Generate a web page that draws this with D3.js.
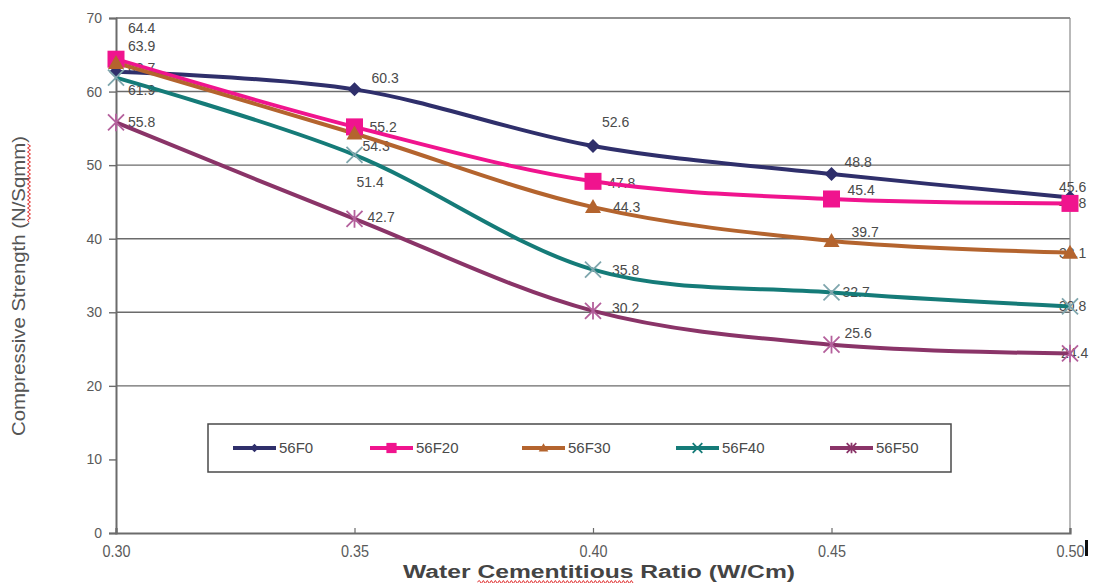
<!DOCTYPE html>
<html>
<head>
<meta charset="utf-8">
<script src="https://cdn.jsdelivr.net/npm/d3@7"></script>
<style>
  html, body { margin: 0; padding: 0; background: #fff; }
  svg { display: block; }
</style>
</head>
<body>
<svg id="chart" width="1094" height="583"></svg>
<script>
// W/Cm ratios on the horizontal axis
const ratios = [0.30, 0.35, 0.40, 0.45, 0.50];
const xTickLabels = ["0.30", "0.35", "0.40", "0.45", "0.50"];
const yTicks = [0, 10, 20, 30, 40, 50, 60, 70];
const gridValues = [20, 30, 40, 50, 60, 70];

// Compressive strength (N/Sqmm) for each mix
const seriesNames = ["56F0", "56F20", "56F30", "56F40", "56F50"];
const s56F0  = [62.7, 60.3, 52.6, 48.8, 45.6];
const s56F20 = [64.4, 55.2, 47.8, 45.4, 44.8];
const s56F30 = [63.9, 54.3, 44.3, 39.7, 38.1];
const s56F40 = [61.9, 51.4, 35.8, 32.7, 30.8];
const s56F50 = [55.8, 42.7, 30.2, 25.6, 24.4];
const seriesValues = [s56F0, s56F20, s56F30, s56F40, s56F50];

// Presentation
const lineColors   = ["#2f2f6b", "#f0148e", "#b4642e", "#157b78", "#8a3468"];
const markerColors = ["#2f2f6b", "#f0148e", "#b4642e", "#7fa6ad", "#b4609c"];
const markerKinds  = ["diamond", "square", "triangle", "x", "star"];
// data-label offsets [dx, dy] per series, per point
const labelOffsets = [
  [[12, -4], [17, -11], [9, -24], [13, -12], [-11, -10]],
  [[12, -31], [15, 0], [15, 2], [16, -9], [-11, 0]],
  [[12, -17], [8, 13], [20, 0], [20, -9], [-11, 0]],
  [[12, 13], [2, 27], [19, 0], [11, 0], [-11, 0]],
  [[12, 0], [13, -2], [19, -3], [13, -12], [-9, 0]]
];

const svg = d3.select("#chart");
const x = d3.scaleLinear().domain([0.30, 0.50]).range([116, 1070]);
const y = d3.scaleLinear().domain([0, 70]).range([533, 18]);

const gray = "#5a5a5a";
const sans = "'Liberation Sans', Arial, sans-serif";

// horizontal gridlines
svg.append("g").selectAll("line").data(gridValues).join("line")
  .attr("x1", x(0.30)).attr("x2", x(0.50))
  .attr("y1", d => y(d)).attr("y2", d => y(d))
  .attr("stroke", "#6b6b6b").attr("stroke-width", 1.4);

// right border of the plot area
svg.append("line")
  .attr("x1", x(0.50)).attr("x2", x(0.50)).attr("y1", y(70)).attr("y2", y(0))
  .attr("stroke", "#8a8a8a").attr("stroke-width", 1.2);

// y axis
const yAxis = svg.append("g").attr("transform", `translate(${x(0.30)},0)`)
  .call(d3.axisLeft(y).tickValues(yTicks).tickSize(7).tickPadding(7).tickFormat(d3.format("d")));
yAxis.select(".domain").attr("stroke", "#6b6b6b").attr("stroke-width", 2);
yAxis.selectAll(".tick line").attr("stroke", "#6b6b6b").attr("stroke-width", 1.4);
yAxis.selectAll(".tick text").attr("fill", gray).style("font-family", sans).style("font-size", "14px");

// x axis
const xAxis = svg.append("g").attr("transform", `translate(0,${y(0)})`)
  .call(d3.axisBottom(x).tickValues(ratios).tickSize(-5).tickPadding(10)
    .tickFormat((d, i) => xTickLabels[i]));
xAxis.select(".domain").attr("stroke", "#6b6b6b").attr("stroke-width", 2.2);
xAxis.selectAll(".tick line").attr("stroke", "#6b6b6b").attr("stroke-width", 1.2);
xAxis.selectAll(".tick text").attr("fill", gray).style("font-family", sans).style("font-size", "16px")
  .attr("dy", "0.85em")
  .attr("textLength", 28).attr("lengthAdjust", "spacingAndGlyphs");

// data labels (drawn under the lines and markers)
const labelG = svg.append("g");
seriesValues.forEach((vals, si) => {
  labelG.selectAll(null).data(vals).join("text")
    .attr("x", (d, i) => x(ratios[i]) + labelOffsets[si][i][0])
    .attr("y", (d, i) => y(d) + labelOffsets[si][i][1])
    .attr("dy", "0.35em")
    .attr("fill", "#4a4a4a")
    .style("font-family", sans).style("font-size", "14px")
    .text(d => d.toFixed(1));
});

// smoothed lines
const line = d3.line()
  .x((d, i) => x(ratios[i]))
  .y(d => y(d))
  .curve(d3.curveCatmullRom.alpha(0));

const linesG = svg.append("g");
seriesValues.forEach((vals, si) => {
  linesG.append("path").datum(vals)
    .attr("d", line)
    .attr("fill", "none")
    .attr("stroke", lineColors[si])
    .attr("stroke-width", 4)
    .attr("stroke-linejoin", "round");
});

// marker shapes
function drawMarker(g, kind, cx, cy, color, scale) {
  const s = scale || 1;
  if (kind === "diamond") {
    const r = 7 * s;
    g.append("path").attr("d", `M${cx},${cy - r}L${cx + r},${cy}L${cx},${cy + r}L${cx - r},${cy}Z`)
      .attr("fill", color);
  } else if (kind === "square") {
    const r = 8.5 * s;
    g.append("rect").attr("x", cx - r).attr("y", cy - r).attr("width", 2 * r).attr("height", 2 * r)
      .attr("fill", color);
  } else if (kind === "triangle") {
    const r = 8 * s;
    g.append("path").attr("d", `M${cx},${cy - r}L${cx + r},${cy + r * 0.75}L${cx - r},${cy + r * 0.75}Z`)
      .attr("fill", color);
  } else if (kind === "x") {
    const r = 8 * s;
    g.append("path").attr("d", `M${cx - r},${cy - r}L${cx + r},${cy + r}M${cx - r},${cy + r}L${cx + r},${cy - r}`)
      .attr("stroke", color).attr("stroke-width", 1.8).attr("fill", "none");
  } else if (kind === "star") {
    const r = 8 * s;
    g.append("path").attr("d", `M${cx - r},${cy - r}L${cx + r},${cy + r}M${cx - r},${cy + r}L${cx + r},${cy - r}M${cx},${cy - r * 1.1}L${cx},${cy + r * 1.1}`)
      .attr("stroke", color).attr("stroke-width", 1.8).attr("fill", "none");
  }
}

const markerG = svg.append("g");
seriesValues.forEach((vals, si) => {
  vals.forEach((v, i) => drawMarker(markerG, markerKinds[si], x(ratios[i]), y(v), markerColors[si]));
});

// legend
const legend = svg.append("g");
legend.append("rect")
  .attr("x", 208).attr("y", 424).attr("width", 743).attr("height", 48)
  .attr("fill", "#fff").attr("stroke", "#4a4a4a").attr("stroke-width", 1.5);
const legendX = [233, 370, 522, 676, 830];
seriesNames.forEach((name, si) => {
  const lx = legendX[si];
  const ly = 448;
  legend.append("line").attr("x1", lx).attr("x2", lx + 43).attr("y1", ly).attr("y2", ly)
    .attr("stroke", lineColors[si]).attr("stroke-width", 4);
  drawMarker(legend, markerKinds[si], lx + 21.5, ly, si >= 3 ? lineColors[si] : markerColors[si], 0.6);
  legend.append("text").attr("x", lx + 46).attr("y", ly).attr("dy", "0.36em")
    .attr("fill", "#4a4a4a").style("font-family", sans).style("font-size", "15px")
    .text(name);
});

// axis titles (condensed glyphs)
const yTitleTf = "translate(25,286) rotate(-90)";
const yTitle = svg.append("text")
  .attr("transform", yTitleTf)
  .attr("text-anchor", "middle")
  .attr("fill", "#555").style("font-family", sans).style("font-size", "19px")
  .attr("textLength", 300).attr("lengthAdjust", "spacingAndGlyphs")
  .text("Compressive Strength (N/Sqmm)");

const xTitle = svg.append("text")
  .attr("x", 599).attr("y", 578)
  .attr("text-anchor", "middle")
  .attr("fill", "#444").style("font-family", sans).style("font-size", "18px").style("font-weight", "bold")
  .attr("textLength", 392).attr("lengthAdjust", "spacingAndGlyphs")
  .text("Water Cementitious Ratio (W/Cm)");

// red wavy underline, as a spell-checker draws it
function squiggle(x0, x1) {
  let d = `M${x0},0`;
  let up = true;
  for (let xx = x0 + 2; xx <= x1; xx += 2) { d += `L${xx},${up ? -1.5 : 1.5}`; up = !up; }
  return d;
}
{
  const node = xTitle.node();
  const text = node.textContent;
  const i0 = text.indexOf("Cementitious");
  const start = node.getStartPositionOfChar(i0);
  const end = node.getEndPositionOfChar(i0 + "Cementitious".length - 1);
  svg.append("path").attr("d", squiggle(start.x, end.x))
    .attr("transform", `translate(0,${start.y + 4})`)
    .attr("fill", "none").attr("stroke", "#e03030").attr("stroke-width", 1);
}
{
  const node = yTitle.node();
  const text = node.textContent;
  const i0 = text.indexOf("N/Sqmm");
  const a = node.getStartPositionOfChar(i0);
  const b = node.getEndPositionOfChar(i0 + "N/Sqmm".length - 1);
  svg.append("path").attr("d", squiggle(a.x, b.x))
    .attr("transform", `${yTitleTf} translate(0,${a.y + 4})`)
    .attr("fill", "none").attr("stroke", "#e03030").attr("stroke-width", 1);
}

// small black bar past the last tick label
svg.append("rect").attr("x", 1085).attr("y", 540).attr("width", 3).attr("height", 16).attr("fill", "#111");
</script>
</body>
</html>
